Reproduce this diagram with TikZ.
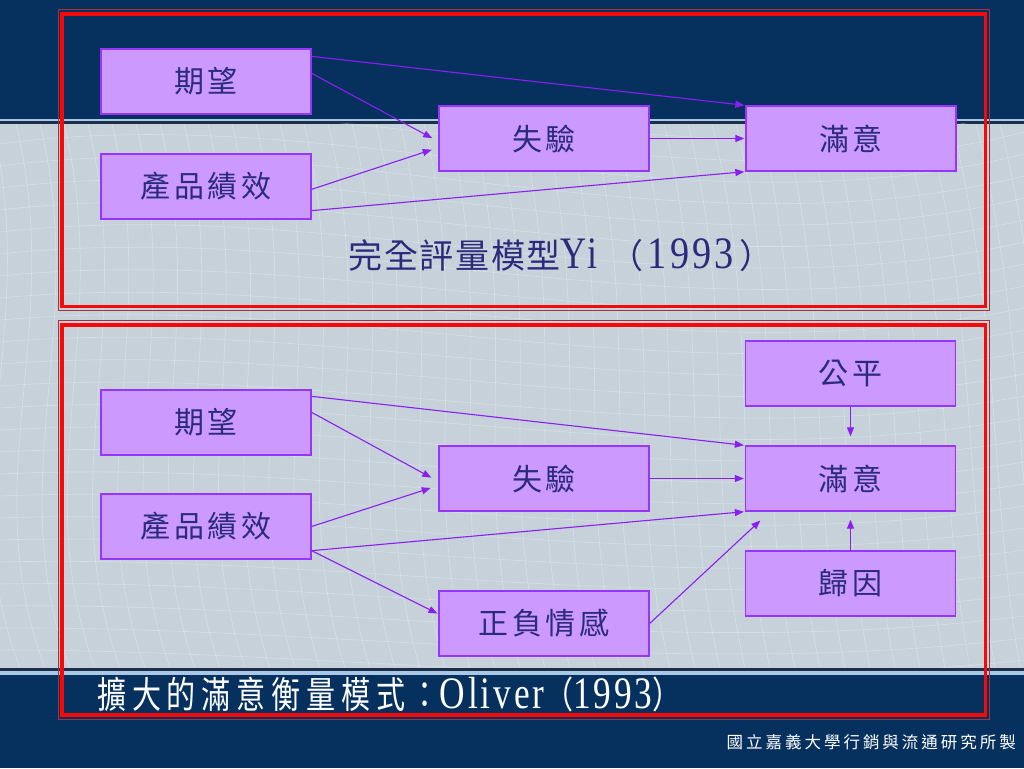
\documentclass[tikz,border=0pt]{standalone}
\usepackage{fontspec}
\newfontfamily\cjkbox{Noto Sans CJK TC}[LetterSpace=12]
\newfontfamily\cjkbig{Noto Sans CJK TC}[LetterSpace=20]
\newfontfamily\cjkcap{Noto Sans CJK TC}[LetterSpace=5]
\newfontfamily\cjkfoot{Noto Sans CJK TC}[LetterSpace=18]
\newfontfamily\latinf{Liberation Serif}[LetterSpace=8]
\usetikzlibrary{arrows.meta,calc}

\definecolor{navy}{HTML}{06315F}
\definecolor{bggray}{HTML}{C6D1DA}
\definecolor{striplight}{HTML}{A9C7E6}
\definecolor{stripdark}{HTML}{1B3048}
\definecolor{boxfill}{HTML}{CC99FF}
\definecolor{boxline}{HTML}{9933FF}
\definecolor{arrowc}{HTML}{8B1EF0}
\definecolor{txtc}{HTML}{2B2B7C}
\definecolor{framered}{HTML}{F50A0A}
\definecolor{framedark}{HTML}{A8303A}

\newcommand\boxtxt{\cjkbox\fontsize{30}{32}\selectfont}

\begin{document}
\begin{tikzpicture}[x=1pt,y=-1pt,
  box/.style={draw=boxline, line width=1.3pt, fill=boxfill,
    minimum width=210pt, minimum height=65pt, inner sep=0pt,
    text=txtc, font=\boxtxt},
  conn/.style={draw=arrowc, line width=1.1pt,
    -{Triangle[length=9pt,width=7pt]}},
  meshline/.style={white, opacity=0.28, line width=0.7pt},
  framethick/.style={draw=framered, line width=3.6pt},
  framethin/.style={draw=framedark, line width=1pt}
]
\useasboundingbox (0,0) rectangle (1024,768);

% background
\fill[navy] (0,0) rectangle (1024,768);
\fill[bggray] (0,123.5) rectangle (1024,667.5);
\fill[striplight] (0,118.5) rectangle (1024,121);
\fill[stripdark] (0,121) rectangle (1024,123.5);
\fill[stripdark] (0,667.5) rectangle (1024,670.5);
\fill[striplight] (0,670.5) rectangle (1024,674.5);

\begin{scope}
  \clip (0,123.5) rectangle (1024,667.5);
  \foreach \i in {0,...,52} {
    \draw[meshline] ({-200+24*\i},124) .. controls ({-150+24*\i},330) and ({-260+26*\i},480) .. ({-180+25*\i},668);
  }
  \foreach \j in {0,...,28} {
    \draw[meshline] (0,{100+22*\j}) .. controls (340,{50+24*\j}) and (680,{200+20*\j}) .. (1024,{110+22*\j});
  }
\end{scope}

% frames
\draw[framethin] (58.3,10) rectangle (989.8,310.8);
\draw[framethick] (62,14.2) rectangle (985.5,306.5);
\draw[framethin] (58.3,320.7) rectangle (989.8,719.5);
\draw[framethick] (62,325) rectangle (985.5,715);

% top diagram
\node[box] (qw) at (206,81.5) {期望};
\node[box] (cp) at (206,186.5) {產品績效};
\node[box] (sy) at (544,138.5) {失驗};
\node[box] (my) at (851,138.5) {滿意};

\draw[conn, shorten >=1pt] ($(qw.north east)+(0,8)$) -- (my.north west);
\draw[conn, shorten >=7pt] ($(qw.north east)+(0,25)$) -- ($(sy.west)+(0,3)$);
\draw[conn, shorten >=7pt] ($(cp.north east)+(0,36)$) -- ($(sy.west)+(0,9)$);
\draw[conn, shorten >=1pt] ($(cp.south east)+(0,-9)$) -- (my.south west);
\draw[conn, shorten >=1pt] (sy.east) -- (my.west);

\node[text=txtc, inner sep=0pt] (cap1) at (561,255)
  {\cjkcap\fontsize{34}{38}\selectfont 完全評量模型\scalebox{0.8}[1]{\latinf\fontsize{45}{46}\selectfont Yi}\hspace{12pt}（\hspace{4pt}\scalebox{0.85}[1]{\latinf\fontsize{45}{46}\selectfont 1993}\hspace{6pt}）};

% bottom diagram
\node[box] (qw2) at (206,422.5) {期望};
\node[box] (cp2) at (206,526.5) {產品績效};
\node[box] (sy2) at (544,478.5) {失驗};
\node[box] (zf) at (544,623.5) {正負情感};
\node[box] (gp) at (850.5,373.5) {公平};
\node[box] (my2) at (850.5,478.5) {滿意};
\node[box] (gy) at (850.5,583.5) {歸因};

\draw[conn, shorten >=1pt] ($(qw2.north east)+(0,7)$) -- (my2.north west);
\draw[conn, shorten >=8pt] ($(qw2.north east)+(0,23)$) -- ($(sy2.west)+(0,3)$);
\draw[conn, shorten >=8pt] (cp2.east) -- ($(sy2.west)+(0,7)$);
\draw[conn, shorten >=1pt] ($(cp2.south east)+(0,-9)$) -- (my2.south west);
\draw[conn, shorten >=1pt] ($(cp2.south east)+(0,-9)$) -- ($(zf.west)+(0,-9.5)$);
\draw[conn, shorten >=1pt] (sy2.east) -- (my2.west);
\draw[conn, shorten >=13pt] (zf.east) -- ($(my2.south west)+(25,0)$);
\draw[conn, shorten >=9pt] (gp.south) -- (my2.north);
\draw[conn, shorten >=8pt] (gy.north) -- (my2.south);

\node[text=white, inner sep=0pt, anchor=west] (cap2) at (97,694)
  {\scalebox{0.785}[1]{\cjkbig\fontsize{37}{40}\selectfont 擴大的滿意衡量模式：{\latinf\fontsize{45}{46}\selectfont Oliver}（{\latinf\fontsize{45}{46}\selectfont 1993}）}};

\node[text=white, inner sep=0pt, anchor=east] (foot) at (1016,742)
  {\cjkfoot\fontsize{16.5}{18}\selectfont 國立嘉義大學行銷與流通研究所製};
\end{tikzpicture}
\end{document}
